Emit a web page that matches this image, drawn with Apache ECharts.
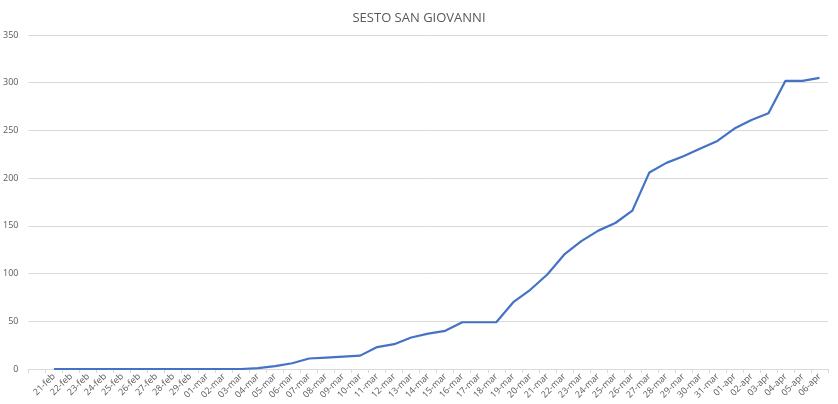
<!DOCTYPE html>
<html><head><meta charset="utf-8">
<script src="https://cdn.jsdelivr.net/npm/echarts@6/dist/echarts.min.js"></script>
<style>html,body{margin:0;padding:0;background:#fff}#c{width:838px;height:404px}</style>
</head><body><div id="c"></div>
<script>
var title = 'SESTO SAN GIOVANNI';
var categories = ['', '21-feb','22-feb','23-feb','24-feb','25-feb','26-feb','27-feb','28-feb','29-feb',
  '01-mar','02-mar','03-mar','04-mar','05-mar','06-mar','07-mar','08-mar','09-mar','10-mar',
  '11-mar','12-mar','13-mar','14-mar','15-mar','16-mar','17-mar','18-mar','19-mar','20-mar',
  '21-mar','22-mar','23-mar','24-mar','25-mar','26-mar','27-mar','28-mar','29-mar','30-mar','31-mar',
  '01-apr','02-apr','03-apr','04-apr','05-apr','06-apr'];
var values = [null, 0,0,0,0,0,0,0,0,0,
  0,0,0,1,3,6,11,12,13,14,
  23,26,33,37,40,49,49,49,70,83,
  99,120,134,145,153,166,206,216,223,231,239,
  252,261,268,302,302,305];
var yTicks = {min: 0, max: 350, interval: 50};

var chart = echarts.init(document.getElementById('c'));
chart.setOption({
  animation: false,
  title: {text: title, left: 'center', top: 7,
    textStyle: {fontFamily: 'Open Sans', fontSize: 13, fontWeight: 'normal', color: '#595959'}},
  grid: {left: 28, right: 10, top: 35, bottom: 35},
  xAxis: {type: 'category', data: categories, boundaryGap: true,
    axisLine: {lineStyle: {color: '#d9d9d9'}},
    axisTick: {show: true, length: 4, lineStyle: {color: '#d9d9d9'}},
    axisLabel: {interval: 0, rotate: 45, fontSize: 9, color: '#595959', fontFamily: 'Open Sans', margin: 6}},
  yAxis: {type: 'value', min: yTicks.min, max: yTicks.max, interval: yTicks.interval,
    axisLine: {show: false}, axisTick: {show: false},
    axisLabel: {fontSize: 9, color: '#595959', fontFamily: 'Open Sans', margin: 10},
    splitLine: {lineStyle: {color: '#d9d9d9'}}},
  series: [{type: 'line', data: values, showSymbol: false, connectNulls: false,
    lineStyle: {color: '#4472C4', width: 2.2}, itemStyle: {color: '#4472C4'}}]
});
</script></body></html>
